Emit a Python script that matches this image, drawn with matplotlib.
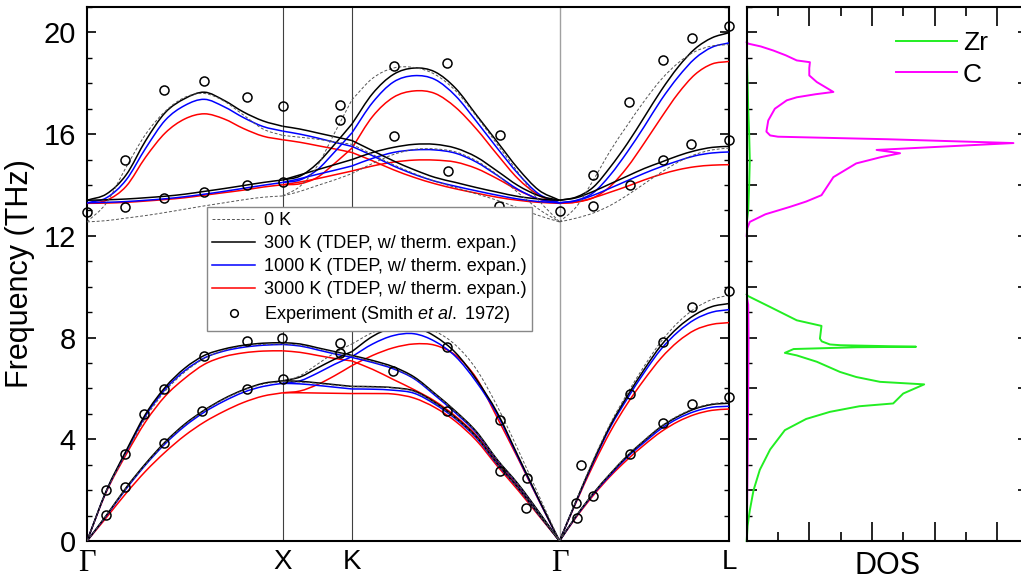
import numpy as np
import matplotlib.pyplot as plt
from matplotlib.path import Path
from matplotlib.patches import PathPatch
from matplotlib.lines import Line2D

plt.rcParams['font.family'] = ['Liberation Sans', 'DejaVu Sans']
plt.rcParams['mathtext.fontset'] = 'custom'
plt.rcParams['mathtext.it'] = 'Liberation Sans:italic'
plt.rcParams['mathtext.rm'] = 'Liberation Sans'

# path G-X-K-G-L (lengths in 2pi/a)
kpt_labels = ['Γ', 'X', 'K', 'Γ', 'L']
seg_lengths = [1.0, 0.3536, 1.0607, 0.8660]

# fractional positions along each segment where the curves were read
frac11 = [0.0, 0.1, 0.2, 0.3, 0.4, 0.5, 0.6, 0.7, 0.8, 0.9, 1.0]
frac5 = [0.0, 0.25, 0.5, 0.75, 1.0]
seg_fracs = [frac11, frac5, frac11, frac11]

# ---- 300 K (black) ----
gx_300 = [[0, 1.02, 2.1, 3.05, 3.9, 4.6, 5.15, 5.6, 5.95, 6.2, 6.3],
          [0, 2.0, 3.55, 5.0, 6.05, 6.8, 7.3, 7.55, 7.7, 7.78, 7.8],
          [13.4, 13.42, 13.45, 13.5, 13.56, 13.64, 13.75, 13.86, 13.98, 14.1, 14.2],
          [13.4, 13.65, 14.4, 15.75, 16.85, 17.4, 17.65, 17.33, 16.87, 16.52, 16.31]]
xk_300 = [[6.3, 6.28, 6.22, 6.15, 6.08],
          [6.3, 6.45, 6.8, 7.15, 7.45],
          [7.8, 7.75, 7.6, 7.45, 7.3],
          [14.2, 14.4, 14.6, 14.8, 15.0],
          [14.2, 14.35, 14.85, 15.6, 16.4],
          [16.31, 16.2, 16.05, 15.9, 15.75]]
kg_300 = [[7.45, 8.05, 8.4, 8.42, 8.05, 7.4, 6.35, 5.05, 3.35, 1.65, 0],
          [7.3, 7.1, 6.85, 6.45, 5.8, 5.1, 4.3, 3.2, 2.25, 1.15, 0],
          [6.08, 6.07, 6.03, 5.9, 5.45, 4.85, 4.1, 3.05, 2.1, 1.05, 0],
          [16.4, 17.6, 18.35, 18.6, 18.45, 17.8, 16.75, 15.7, 14.65, 13.8, 13.4],
          [15.0, 15.28, 15.48, 15.6, 15.6, 15.45, 15.1, 14.55, 13.98, 13.58, 13.4],
          [15.75, 15.35, 14.95, 14.6, 14.3, 14.1, 13.9, 13.72, 13.55, 13.45, 13.4]]
gl_300 = [[0, 1.0, 1.88, 2.65, 3.35, 3.95, 4.5, 4.9, 5.2, 5.37, 5.42],
          [0, 1.6, 3.15, 4.55, 5.7, 6.75, 7.7, 8.4, 8.9, 9.22, 9.34],
          [13.4, 13.5, 13.75, 14.05, 14.35, 14.65, 14.9, 15.15, 15.35, 15.48, 15.52],
          [13.4, 13.53, 13.92, 14.71, 15.63, 16.67, 17.72, 18.64, 19.36, 19.79, 19.99]]

# ---- 1000 K (blue) ----
gx_1000 = [[0, 1.0, 2.05, 3.0, 3.83, 4.52, 5.07, 5.5, 5.85, 6.08, 6.2],
           [0, 1.98, 3.5, 4.93, 5.97, 6.7, 7.2, 7.47, 7.62, 7.7, 7.73],
           [13.3, 13.32, 13.35, 13.4, 13.46, 13.54, 13.64, 13.75, 13.87, 13.99, 14.1],
           [13.3, 13.5, 14.2, 15.45, 16.55, 17.13, 17.37, 17.08, 16.65, 16.3, 16.12]]
xk_1000 = [[6.2, 6.18, 6.12, 6.05, 5.98],
           [6.2, 6.3, 6.6, 6.95, 7.25],
           [7.73, 7.67, 7.52, 7.36, 7.22],
           [14.1, 14.25, 14.42, 14.58, 14.75],
           [14.1, 14.2, 14.6, 15.3, 16.05],
           [16.12, 16.0, 15.85, 15.68, 15.52]]
kg_1000 = [[7.25, 7.75, 8.08, 8.15, 7.85, 7.25, 6.25, 4.98, 3.3, 1.62, 0],
           [7.22, 7.02, 6.77, 6.38, 5.73, 5.03, 4.25, 3.17, 2.22, 1.13, 0],
           [5.98, 5.97, 5.93, 5.81, 5.38, 4.8, 4.05, 3.02, 2.08, 1.04, 0],
           [16.05, 17.25, 18.05, 18.3, 18.15, 17.5, 16.5, 15.45, 14.45, 13.65, 13.3],
           [14.75, 15.05, 15.28, 15.38, 15.38, 15.25, 14.9, 14.38, 13.83, 13.45, 13.3],
           [15.52, 15.15, 14.75, 14.42, 14.15, 13.95, 13.77, 13.6, 13.45, 13.35, 13.3]]
gl_1000 = [[0, 0.98, 1.85, 2.6, 3.3, 3.88, 4.42, 4.82, 5.1, 5.26, 5.3],
           [0, 1.58, 3.1, 4.48, 5.6, 6.63, 7.55, 8.23, 8.72, 9.0, 9.1],
           [13.3, 13.38, 13.6, 13.88, 14.17, 14.46, 14.72, 14.95, 15.15, 15.26, 15.3],
           [13.3, 13.4, 13.7, 14.4, 15.3, 16.3, 17.35, 18.25, 18.98, 19.42, 19.59]]

# ---- 3000 K (red) ----
gx_3000 = [[0, 0.93, 1.88, 2.75, 3.5, 4.15, 4.68, 5.1, 5.45, 5.7, 5.83],
           [0, 1.95, 3.4, 4.7, 5.7, 6.4, 6.95, 7.25, 7.4, 7.47, 7.48],
           [13.28, 13.29, 13.32, 13.37, 13.43, 13.5, 13.6, 13.7, 13.8, 13.92, 14.01],
           [13.28, 13.4, 13.95, 15.1, 16.05, 16.6, 16.8, 16.6, 16.22, 15.92, 15.78]]
xk_3000 = [[5.83, 5.83, 5.82, 5.81, 5.8],
           [5.83, 5.9, 6.15, 6.5, 6.9],
           [7.48, 7.42, 7.3, 7.18, 7.08],
           [14.01, 14.12, 14.25, 14.4, 14.55],
           [14.01, 14.05, 14.3, 14.85, 15.45],
           [15.78, 15.68, 15.55, 15.42, 15.28]]
kg_3000 = [[6.9, 7.3, 7.6, 7.75, 7.7, 7.3, 6.4, 4.85, 3.25, 1.6, 0],
           [7.08, 6.75, 6.35, 5.95, 5.5, 4.9, 4.15, 3.12, 2.15, 1.08, 0],
           [5.8, 5.8, 5.78, 5.62, 5.25, 4.7, 3.95, 2.95, 2.0, 1.0, 0],
           [15.45, 16.7, 17.45, 17.7, 17.6, 17.05, 16.2, 15.2, 14.25, 13.6, 13.28],
           [14.55, 14.75, 14.9, 14.98, 14.98, 14.9, 14.65, 14.25, 13.8, 13.45, 13.28],
           [15.28, 14.95, 14.6, 14.3, 14.05, 13.85, 13.68, 13.52, 13.4, 13.32, 13.28]]
gl_3000 = [[0, 0.95, 1.8, 2.55, 3.2, 3.78, 4.3, 4.7, 4.98, 5.14, 5.19],
           [0, 1.55, 3.0, 4.3, 5.4, 6.35, 7.2, 7.85, 8.3, 8.52, 8.59],
           [13.28, 13.33, 13.5, 13.72, 13.95, 14.2, 14.42, 14.6, 14.72, 14.78, 14.8],
           [13.28, 13.33, 13.5, 13.95, 14.7, 15.65, 16.65, 17.6, 18.35, 18.76, 18.86]]

# ---- 0 K (dashed) ----
gx_0 = [[0, 1.02, 2.08, 3.02, 3.87, 4.57, 5.13, 5.58, 5.93, 6.17, 6.27],
        [0, 1.98, 3.45, 4.85, 5.9, 6.65, 7.18, 7.5, 7.67, 7.73, 7.75],
        [12.55, 12.6, 12.7, 12.8, 12.92, 13.05, 13.18, 13.3, 13.42, 13.52, 13.57],
        [12.55, 13.3, 14.7, 16.0, 16.9, 17.45, 17.6, 17.3, 16.75, 16.2, 15.95]]
xk_0 = [[6.27, 6.25, 6.2, 6.13, 6.07],
        [6.27, 6.5, 6.95, 7.4, 7.75],
        [7.75, 7.7, 7.57, 7.42, 7.28],
        [13.57, 13.75, 13.98, 14.2, 14.45],
        [13.57, 13.95, 14.75, 16.05, 17.35],
        [15.95, 15.88, 15.8, 15.7, 15.6]]
kg_0 = [[7.75, 8.2, 8.45, 8.48, 8.25, 7.7, 6.75, 5.3, 3.6, 1.8, 0],
        [7.28, 7.05, 6.8, 6.4, 5.78, 5.08, 4.28, 3.2, 2.23, 1.14, 0],
        [6.07, 6.06, 6.02, 5.88, 5.43, 4.83, 4.08, 3.03, 2.08, 1.04, 0],
        [17.35, 18.2, 18.6, 18.62, 18.35, 17.7, 16.7, 15.6, 14.5, 13.4, 12.55],
        [14.45, 14.85, 15.2, 15.4, 15.42, 15.3, 14.95, 14.4, 13.7, 13.05, 12.55],
        [15.6, 15.2, 14.8, 14.45, 14.15, 13.9, 13.65, 13.4, 13.1, 12.8, 12.55]]
gl_0 = [[0, 1.0, 1.88, 2.66, 3.37, 3.97, 4.52, 4.93, 5.23, 5.4, 5.46],
        [0, 1.62, 3.2, 4.62, 5.8, 6.88, 7.85, 8.6, 9.15, 9.5, 9.67],
        [12.55, 12.7, 12.9, 13.2, 13.6, 14.05, 14.5, 14.9, 15.2, 15.38, 15.45],
        [12.55, 13.15, 14.2, 15.35, 16.35, 17.3, 18.15, 18.8, 19.25, 19.47, 19.52]]

# ---- experiment (Smith et al. 1972): segment index, fraction, frequency ----
exp_seg = [0]*24 + [1]*4 + [2]*15 + [3]*22
exp_frac = [0.097, 0.194, 0.393, 0.589, 0.819, 1.0,
            0.097, 0.194, 0.291, 0.393, 0.598, 0.819, 0.995,
            0.0, 0.194, 0.194, 0.393, 0.393, 0.598, 0.598, 0.819, 1.0, 0.819, 1.0,
            0.83, 0.83, 0.83, 0.83,
            0.2, 0.2, 0.205, 0.205, 0.457, 0.462, 0.457, 0.457, 0.715, 0.709,
            0.712, 0.715, 0.844, 0.841, 1.0,
            0.1, 0.128, 0.104, 0.2, 0.418, 0.418, 0.61, 0.61, 0.78, 0.78, 1.0, 1.0,
            0.2, 0.2, 0.41, 0.418, 0.61, 0.61, 0.78, 0.775, 1.0, 1.0]
exp_freq = [1.02, 2.11, 3.84, 5.11, 5.96, 6.36,
            2.0, 3.42, 4.98, 5.96, 7.27, 7.87, 8.0,
            12.92, 14.97, 13.13, 17.72, 13.49, 18.09, 13.72, 17.46, 17.12, 13.99, 14.12,
            7.77, 7.40, 17.13, 16.57,
            8.49, 6.69, 18.68, 15.93, 18.79, 14.54, 7.63, 5.11, 15.95, 13.18,
            4.75, 2.76, 2.49, 1.31, 12.97,
            1.5, 2.99, 0.92, 1.78, 5.78, 3.44, 7.81, 4.65, 9.21, 5.37, 9.82, 5.65,
            14.38, 13.18, 17.26, 14.01, 18.93, 14.97, 19.78, 15.6, 20.24, 15.78]

# ---- projected DOS (arbitrary units, frequency in THz) ----
dos_c_x = [0, 0.05, 0.45, 0.85, 1.25, 1.6, 2.02, 2.0, 2.0, 2.24, 2.77, 2.2, 1.6, 1.28,
           0.9, 0.69, 0.63, 0.75, 1.0, 4.5, 8.52, 4.15, 4.9, 4.3, 3.5, 2.77, 2.39,
           1.9, 1.38, 0.6, 0.1, 0.02, 0]
dos_c_f = [19.62, 19.56, 19.45, 19.29, 19.1, 18.9, 18.83, 18.6, 18.31, 18.05, 17.66,
           17.57, 17.45, 17.33, 17.0, 16.54, 16.1, 15.95, 15.9, 15.8, 15.65, 15.38,
           15.25, 15.1, 14.85, 14.31, 13.6, 13.35, 13.14, 12.85, 12.55, 12.3, 12.0]
dos_c_low_x = [0, 0.03, 0.05, 0.06, 0.05, 0]
dos_c_low_f = [0, 3, 6, 8, 9.3, 9.65]
dos_zr_x = [0, 0.03, 0.1, 0.22, 0.42, 0.75, 1.22, 1.9, 2.66, 3.6, 4.68, 5.0, 5.67,
            4.26, 3.5, 2.98, 2.24, 1.6, 1.22, 1.5, 3.5, 5.41, 3.0, 2.66, 2.4, 2.34,
            2.39, 1.6, 0.74, 0.05, 0]
dos_zr_f = [0, 0.6, 1.2, 2.0, 2.8, 3.6, 4.36, 4.8, 5.08, 5.3, 5.41, 5.8, 6.16, 6.26,
            6.45, 6.65, 7.05, 7.3, 7.4, 7.55, 7.62, 7.64, 7.7, 7.73, 7.85, 7.96, 8.46,
            8.68, 9.21, 9.63, 9.7]
dos_zr_high_x = [0, 0.05, 0.08, 0.1, 0.08, 0.05, 0.03, 0]
dos_zr_high_f = [12.5, 13, 14, 15, 16, 17, 18, 19.5]


def smooth_path(x, y):
    # cubic Bezier through the read points (tangents from finite differences)
    x = np.asarray(x, float)
    y = np.asarray(y, float)
    m = np.gradient(y, x)
    verts = [(x[0], y[0])]
    codes = [Path.MOVETO]
    for i in range(len(x) - 1):
        h = (x[i + 1] - x[i]) / 3
        verts += [(x[i] + h, y[i] + m[i] * h),
                  (x[i + 1] - h, y[i + 1] - m[i + 1] * h),
                  (x[i + 1], y[i + 1])]
        codes += [Path.CURVE4] * 3
    return Path(verts, codes)


nodes = np.concatenate([[0], np.cumsum(seg_lengths)])

fig = plt.figure(figsize=(10.21, 5.80), dpi=100)
ax = fig.add_axes([0.0852, 0.0672, 0.6288, 0.9207])
ax2 = fig.add_axes([0.7313, 0.0672, 0.2760, 0.9207])

# vertical lines at high-symmetry points
ax.axvline(nodes[1], color='#404040', lw=0.8, zorder=1)
ax.axvline(nodes[2], color='#404040', lw=0.8, zorder=1)
ax.axvline(nodes[3], color='#a0a0a0', lw=1.0, zorder=1)

temps = [
    ([gx_3000, xk_3000, kg_3000, gl_3000], dict(color='#ff0000', lw=1.1)),
    ([gx_1000, xk_1000, kg_1000, gl_1000], dict(color='#0000ff', lw=1.1)),
    ([gx_300, xk_300, kg_300, gl_300], dict(color='#000000', lw=1.1)),
    ([gx_0, xk_0, kg_0, gl_0], dict(color='#555555', lw=0.7, ls=(0, (3, 2)))),
]
for segs, style in temps:
    for iseg, branches in enumerate(segs):
        q = nodes[iseg] + np.array(seg_fracs[iseg]) * seg_lengths[iseg]
        for b in branches:
            ax.add_patch(PathPatch(smooth_path(q, b), fill=False, zorder=3, **style))

seg_idx = np.array(exp_seg)
q_exp = nodes[seg_idx] + np.array(exp_frac) * np.array(seg_lengths)[seg_idx]
ax.plot(q_exp, exp_freq, 'o', ms=6.5, mfc='none', mec='black', mew=1.1,
        clip_on=False, zorder=5)

ax.set_xlim(nodes[0], nodes[-1])
ax.set_ylim(0, 21)
ax.set_xticks(nodes)
ax.set_xticklabels(kpt_labels, fontsize=20)
for lab, txt in zip(ax.get_xticklabels(), kpt_labels):
    if txt == 'Γ':
        lab.set_fontfamily('Liberation Serif')
        lab.set_fontsize(22)
ax.tick_params(axis='x', length=0, pad=6)
ax.set_yticks([0, 4, 8, 12, 16, 20])
ax.set_yticks(range(0, 22), minor=True)
ax.tick_params(axis='y', which='both', direction='in', left=True, right=True,
               labelsize=21, pad=8)
ax.tick_params(axis='y', which='major', length=6.5, width=1.2)
ax.tick_params(axis='y', which='minor', length=3.5, width=1.0)
ax.set_ylabel('Frequency (THz)', fontsize=22, labelpad=6)
for sp in ax.spines.values():
    sp.set_linewidth(1.5)

handles = [
    Line2D([], [], color='#555555', lw=0.7, ls=(0, (3, 2))),
    Line2D([], [], color='black', lw=1.1),
    Line2D([], [], color='#0000ff', lw=1.1),
    Line2D([], [], color='#ff0000', lw=1.1),
    Line2D([], [], ls='none', marker='o', ms=5.5, mfc='none', mec='black', mew=1.1),
]
labels = ['0 K', '300 K (TDEP, w/ therm. expan.)', '1000 K (TDEP, w/ therm. expan.)',
          '3000 K (TDEP, w/ therm. expan.)', r'Experiment (Smith $\mathit{et\ al.}$ 1972)']
leg = ax.legend(handles, labels, loc='upper left', bbox_to_anchor=(0.187, 0.6255),
                borderaxespad=0, fontsize=13, handlelength=2.35, labelspacing=0.33,
                fancybox=False, framealpha=1, edgecolor='#888888', borderpad=0.3,
                handletextpad=0.5)
leg.get_frame().set_linewidth(1.0)
leg.set_zorder(6)

# DOS panel
ax2.plot(dos_zr_x, dos_zr_f, color='#22ee22', lw=1.4, label='Zr', clip_on=False)
ax2.plot(dos_zr_high_x, dos_zr_high_f, color='#22ee22', lw=1.4)
ax2.plot(dos_c_x, dos_c_f, color='#ff00ff', lw=1.4, label='C', clip_on=False)
ax2.plot(dos_c_low_x, dos_c_low_f, color='#ff00ff', lw=1.4)
ax2.set_xlim(0, 9)
ax2.set_ylim(0, 21)
ax2.set_xticks([2, 4, 6, 8])
ax2.set_xticks([1, 3, 5, 7], minor=True)
ax2.set_yticks(range(0, 22, 2))
ax2.set_yticks(range(0, 22), minor=True)
ax2.tick_params(which='both', direction='in', top=True, bottom=True, left=True,
                right=True, labelleft=False, labelbottom=False)
ax2.tick_params(axis='x', which='major', length=13.5, width=1.2)
ax2.tick_params(axis='x', which='minor', length=6.5, width=1.2)
ax2.tick_params(axis='y', which='major', length=7, width=1.2)
ax2.tick_params(axis='y', which='minor', length=3.5, width=1.0)
ax2.set_xlabel('DOS', fontsize=22)
ax2.xaxis.set_label_coords(0.50, -0.018, transform=ax2.transAxes)
ax2.xaxis.label.set_verticalalignment('top')
for sp in ax2.spines.values():
    sp.set_linewidth(1.5)
ax2.legend(loc='upper left', bbox_to_anchor=(0.445, 1.0), frameon=False, fontsize=19,
           handlelength=2.3, labelspacing=0.3, handletextpad=0.25)

fig.savefig('out.png', dpi=100)
